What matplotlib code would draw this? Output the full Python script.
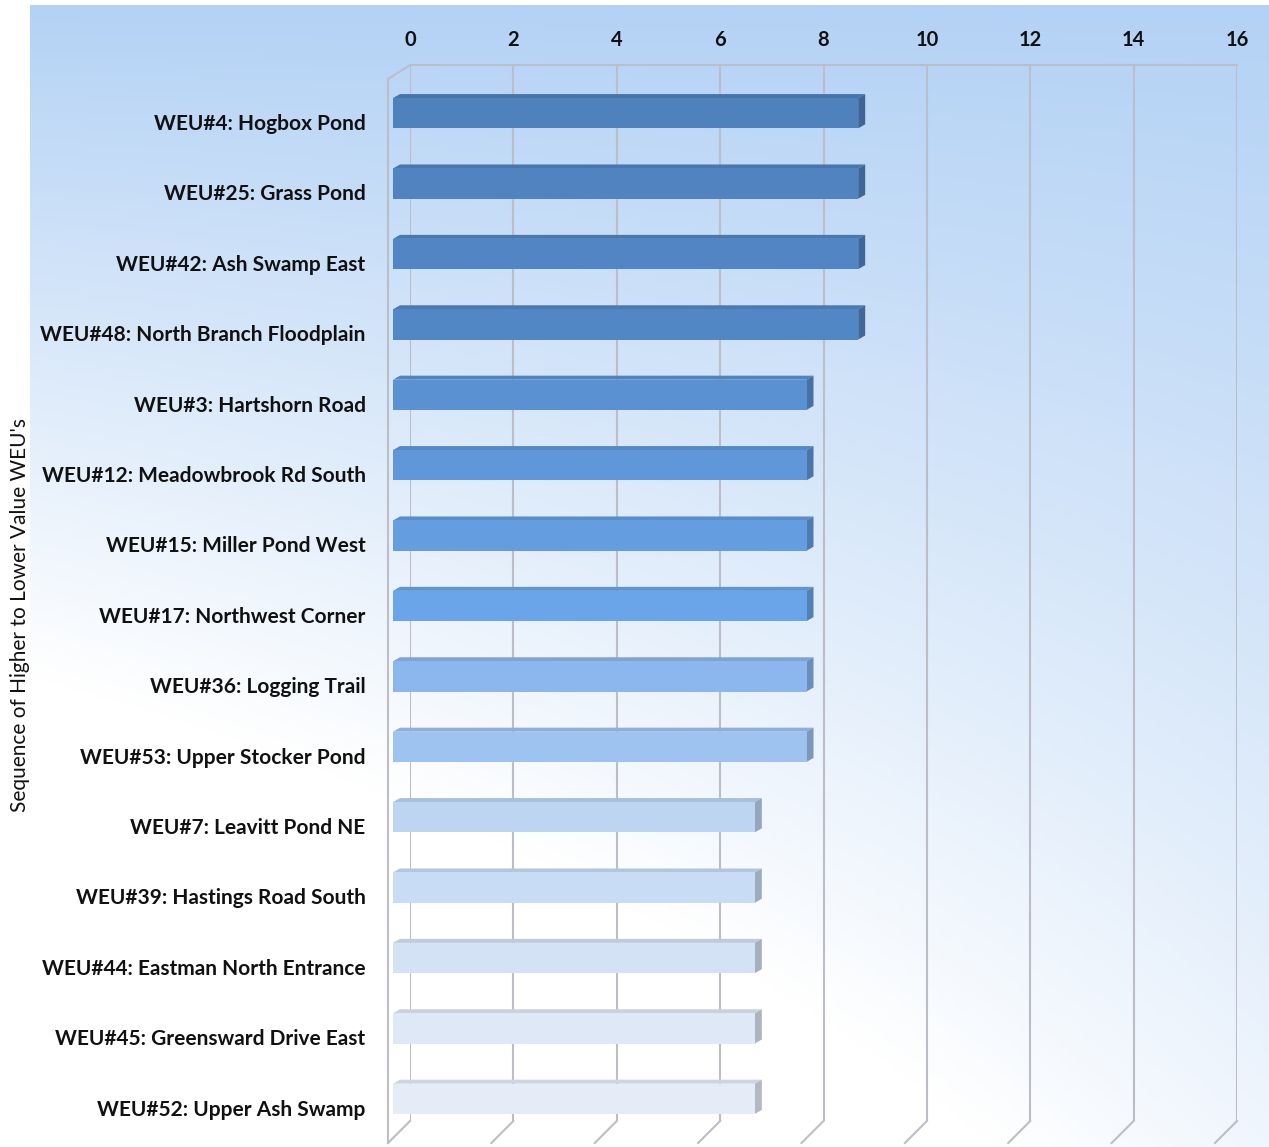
import numpy as np
import matplotlib
matplotlib.use("Agg")
import matplotlib.pyplot as plt
from matplotlib.patches import Polygon

# 數據
labels = [
    "WEU#4: Hogbox Pond",
    "WEU#25: Grass Pond",
    "WEU#42: Ash Swamp East",
    "WEU#48: North Branch Floodplain",
    "WEU#3: Hartshorn Road",
    "WEU#12: Meadowbrook Rd South",
    "WEU#15: Miller Pond West",
    "WEU#17: Northwest Corner",
    "WEU#36: Logging Trail",
    "WEU#53: Upper Stocker Pond",
    "WEU#7: Leavitt Pond NE",
    "WEU#39: Hastings Road South",
    "WEU#44: Eastman North Entrance",
    "WEU#45: Greensward Drive East",
    "WEU#52: Upper Ash Swamp",
]
values = [9, 9, 9, 9, 8, 8, 8, 8, 8, 8, 7, 7, 7, 7, 7]
xticks = [0, 2, 4, 6, 8, 10, 12, 14, 16]
ylabel = "Sequence of Higher to Lower Value WEU's"

bar_colors = [
    (79, 129, 189), (80, 131, 192), (81, 133, 195), (82, 135, 198),
    (90, 145, 210), (95, 151, 218), (100, 158, 225), (105, 165, 232),
    (140, 182, 238), (158, 195, 240), (190, 212, 243), (200, 220, 245),
    (212, 226, 245), (222, 232, 246), (230, 236, 247),
]

W, H = 1269, 1147
fig = plt.figure(figsize=(W / 100, H / 100), dpi=100)
fig.patch.set_facecolor("white")

# 背景漸層
bg = fig.add_axes([30 / W, 0, 1 - 30 / W, 1 - 5 / H])
yy, xx = np.mgrid[0:1:300j, 0:1:300j]
w = np.clip(1 - yy * (1.7 - 0.9 * xx), 0, 1)
top = np.array([180, 210, 245]) / 255
img = w[..., None] * top + (1 - w[..., None]) * np.array([1, 1, 1])
bg.imshow(img, extent=[0, 1, 0, 1], origin="upper", aspect="auto")
bg.axis("off")

# 主圖
x0, x1 = 410, 1237
y0, y1 = 65, 1121
ax = fig.add_axes([x0 / W, (H - y1) / H, (x1 - x0) / W, (y1 - y0) / H])
ax.patch.set_alpha(0)
n = len(labels)
ax.set_xlim(0, 16)
ax.set_ylim(n - 0.5, -0.5)
for s in ax.spines.values():
    s.set_visible(False)

pxx = (x1 - x0) / 16.0
pxy = (y1 - y0) / n

grid_c = "#BDBDC8"
# 網格與牆
for v in xticks:
    ax.plot([v, v], [-0.5, n - 0.5], color=grid_c, lw=1.5, zorder=1)
    ax.plot([v, v - 22 / pxx], [n - 0.5, n - 0.5 + 22 / pxy],
            color=grid_c, lw=1.5, zorder=1, clip_on=False)
ax.plot([0, 16], [-0.5, -0.5], color=grid_c, lw=1.5, zorder=1, clip_on=False)
ax.plot([0, -22 / pxx], [-0.5, -0.5 + 14 / pxy], color=grid_c, lw=1.5, clip_on=False)
ax.plot([-22 / pxx, -22 / pxx], [-0.5 + 14 / pxy, n - 0.5 + 22 / pxy],
        color=grid_c, lw=1.5, clip_on=False)

# 3D 長條
fx, fy = -17 / pxx, 13 / pxy      # 前面偏移
dx, dy = 7 / pxx, -4 / pxy        # 深度
bh = 0.43
for i, (v, c) in enumerate(zip(values, bar_colors)):
    c = np.array(c) / 255
    l = fx
    r = v + fx
    t = i + fy - bh / 2
    b = i + fy + bh / 2
    ax.add_patch(Polygon([(l, t), (r, t), (r + dx, t + dy), (l + dx, t + dy)],
                         closed=True, fc=c * 0.9, ec="none", zorder=3, clip_on=False))
    ax.add_patch(Polygon([(r, t), (r + dx, t + dy), (r + dx, b + dy), (r, b)],
                         closed=True, fc=c * 0.78, ec="none", zorder=3, clip_on=False))
    ax.add_patch(Polygon([(l, t), (r, t), (r, b), (l, b)],
                         closed=True, fc=c, ec="none", zorder=4, clip_on=False))

# 刻度
fam = ["Lato", "DejaVu Sans"]
ax.xaxis.tick_top()
ax.set_xticks(xticks)
ax.set_xticklabels([str(t) for t in xticks], fontsize=14.5, fontweight="bold",
                   family=fam, color="#111111")
ax.set_yticks(np.arange(n) + 0.31)
ax.set_yticklabels(labels, fontsize=15, fontweight="bold", family=fam, color="#111111")
ax.tick_params(axis="x", length=0, pad=11)
ax.tick_params(axis="y", length=0, pad=32)

fig.text(20 / W, 1 - 615 / H, ylabel, rotation=90, ha="center", va="center",
         fontsize=15, family=fam, color="#111111")

fig.savefig("out.png", dpi=100)
